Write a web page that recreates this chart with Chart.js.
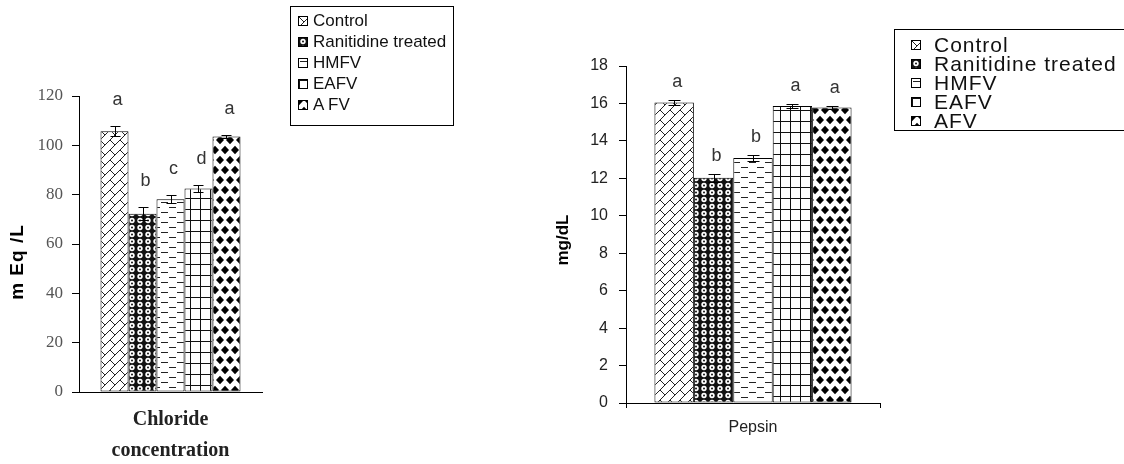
<!DOCTYPE html>
<html><head><meta charset="utf-8">
<script src="https://cdn.jsdelivr.net/npm/chart.js@4.4.1/dist/chart.umd.min.js"></script>
<style>
html,body{margin:0;padding:0;background:#fff;width:1124px;height:464px;overflow:hidden;position:relative;}
canvas.c{position:absolute;top:0;}
.legend{position:absolute;border:1px solid #000;box-sizing:border-box;background:#fff;font-family:'Liberation Sans',Arial,sans-serif;color:#111;}
.legend .item{display:flex;align-items:center;white-space:nowrap;}
.legend canvas{display:block;border:1px solid #000;}
</style></head><body>
<canvas id="left" class="c" width="285" height="464" style="left:0"></canvas>
<canvas id="right" class="c" width="345" height="464" style="left:540px"></canvas>
<div id="legL" class="legend" style="left:290px;top:6px;width:164px;height:120px;padding:3px 0 0 7px;font-size:17px;line-height:21px;"></div>
<div id="legR" class="legend" style="left:894px;top:29px;width:230px;height:102px;border-right:none;padding:5px 0 0 16px;font-size:21px;line-height:19px;letter-spacing:1px"></div>
<script>
// ---------- DATA ----------
const groups = ['Control','Ranitidine treated','HMFV','EAFV','AFV'];
const chlorideLegend = ['Control','Ranitidine treated','HMFV','EAFV','A FV'];
const chlorideCategory = [['Chloride','concentration']];
const chlorideMean = [105.7, 72.3, 78.1, 82.5, 103.6];
const chlorideErr = [2.0, 2.7, 1.6, 1.6, 0.7];
const chlorideLetters = ['a','b','c','d','a'];
const chlorideTicks = [0, 20, 40, 60, 80, 100, 120];
const chlorideTitle = 'm Eq /L';

const pepsinCategory = ['Pepsin'];
const pepsinMean = [16.05, 12.03, 13.09, 15.86, 15.79];
const pepsinErr = [0.12, 0.22, 0.15, 0.09, 0.07];
const pepsinLetters = ['a','b','b','a','a'];
const pepsinTicks = [0, 2, 4, 6, 8, 10, 12, 14, 16, 18];
const pepsinTitle = 'mg/dL';

// ---------- PATTERNS ----------
function makeTile(w,h,draw){const c=document.createElement('canvas');c.width=w;c.height=h;const g=c.getContext('2d');draw(g,w,h);return c;}
const tiles = [
  makeTile(10,10,(g,w,h)=>{g.fillStyle='#fff';g.fillRect(0,0,w,h);g.strokeStyle='#222';g.lineWidth=1;g.beginPath();
    g.moveTo(-1,11);g.lineTo(11,-1);g.moveTo(0,0);g.lineTo(5,5);g.stroke();}),
  makeTile(8,7,(g,w,h)=>{g.fillStyle='#111';g.fillRect(0,0,w,h);g.fillStyle='#fff';g.beginPath();g.arc(4,3.5,2.7,0,Math.PI*2);g.fill();
    g.fillStyle='#111';g.beginPath();g.arc(4,3.5,1,0,Math.PI*2);g.fill();}),
  makeTile(16,10,(g,w,h)=>{g.fillStyle='#fff';g.fillRect(0,0,w,h);g.fillStyle='#222';g.fillRect(1,2,7,1);g.fillRect(9,7,7,1);}),
  makeTile(10,11,(g,w,h)=>{g.fillStyle='#fff';g.fillRect(0,0,w,h);g.fillStyle='#111';g.fillRect(0,0,1,h);g.fillRect(0,0,w,1);}),
  makeTile(10,20,(g,w,h)=>{g.fillStyle='#fff';g.fillRect(0,0,w,h);g.fillStyle='#000';
    const d=(cx,cy)=>{g.beginPath();g.moveTo(cx,cy-4.3);g.lineTo(cx+4,cy);g.lineTo(cx,cy+4.3);g.lineTo(cx-4,cy);g.closePath();g.fill();};
    d(0,0);d(10,0);d(0,20);d(10,20);d(5,10);})
];
const pctx = document.createElement('canvas').getContext('2d');
const patterns = tiles.map(t=>pctx.createPattern(t,'repeat'));

// ---------- PLUGIN ----------
const annot = {
  id:'annot',
  afterDatasetsDraw(chart, args, o){
    const ctx=chart.ctx, y=chart.scales.y;
    ctx.save();
    chart.data.datasets.forEach((ds,i)=>{
      const bar=chart.getDatasetMeta(i).data[0];
      const v=ds.data[0], e=o.err[i];
      const yt=Math.round(y.getPixelForValue(v+e))+0.5, yb=Math.round(y.getPixelForValue(v-e))+0.5;
      const x=Math.round(bar.x)+0.5;
      ctx.strokeStyle='#000';ctx.lineWidth=1;ctx.beginPath();
      ctx.moveTo(x,yt);ctx.lineTo(x,yb);
      ctx.moveTo(x-o.cap,yt);ctx.lineTo(x+o.cap,yt);
      ctx.moveTo(x-o.cap,yb);ctx.lineTo(x+o.cap,yb);
      ctx.stroke();
      ctx.fillStyle=o.letterColor;ctx.font=o.letterFont;ctx.textAlign='center';ctx.textBaseline='middle';
      ctx.fillText(o.letters[i], bar.x+3, yt-o.letterGap);
    });
    ctx.translate(o.title.x,o.title.y);ctx.rotate(-Math.PI/2);
    ctx.font=o.title.font;ctx.fillStyle='#000';ctx.textAlign='center';ctx.textBaseline='middle';
    if ('letterSpacing' in ctx) ctx.letterSpacing=o.title.spacing||'0px';
    ctx.fillText(o.title.text,0,0);
    ctx.restore();
  }
};

function build(id,c){
  const datasets=c.mean.map((v,i)=>({label:c.legend[i],data:[v],backgroundColor:patterns[i],borderColor:'#000',borderWidth:1,borderSkipped:false,
    barPercentage:1,categoryPercentage:c.catPct}));
  return new Chart(document.getElementById(id),{
    type:'bar',
    data:{labels:c.category,datasets},
    plugins:[annot],
    options:{
      responsive:false,animation:false,devicePixelRatio:1,
      layout:{padding:{top:c.padTop,right:c.padRight,left:0,bottom:0}},
      plugins:{legend:{display:false},tooltip:{enabled:false},
        annot:{err:c.err,letters:c.letters,cap:c.cap,letterGap:c.letterGap,letterFont:'18px "Liberation Sans", Arial, sans-serif',letterColor:'#333',title:c.title}},
      scales:{
        x:{offset:true,
          grid:{display:c.xTicks,drawOnChartArea:false,drawTicks:c.xTicks,tickLength:5,color:'#000',offset:true},
          border:{display:true,color:'#000',width:1},
          ticks:{font:c.xFont,color:c.xColor,padding:c.xPad},
          afterFit:s=>{s.height=c.xH;}},
        y:{min:c.ticks[0],max:c.ticks[c.ticks.length-1],
          ticks:{stepSize:c.ticks[1]-c.ticks[0],font:c.yFont,color:c.yColor,padding:c.yPad},
          grid:{drawOnChartArea:false,drawTicks:true,tickLength:c.yTickLen,color:'#000'},
          border:{display:true,color:'#000',width:1},
          afterFit:s=>{s.width=c.yW;}}
      }
    }
  });
}

build('left',{mean:chlorideMean,err:chlorideErr,letters:chlorideLetters,legend:chlorideLegend,category:chlorideCategory,ticks:chlorideTicks,
  catPct:0.765,padTop:96,padRight:23,xH:72,yW:79,xTicks:false,xPad:12,
  xFont:{family:'"Liberation Serif", serif',size:20,weight:'bold',lineHeight:1.55},xColor:'#222',
  yFont:{family:'"Liberation Serif", serif',size:17},yColor:'#555',yPad:9,yTickLen:7,
  cap:5,letterGap:26,
  title:{text:chlorideTitle,x:18,y:262,font:'bold 19px "Liberation Sans", Arial, sans-serif',spacing:'1px'}});

build('right',{mean:pepsinMean,err:pepsinErr,letters:pepsinLetters,legend:groups,category:pepsinCategory,ticks:pepsinTicks,
  catPct:0.776,padTop:66,padRight:5,xH:61,yW:86,xTicks:true,xPad:10,
  xFont:{family:'"Liberation Sans", Arial, sans-serif',size:16},xColor:'#222',
  yFont:{family:'"Liberation Sans", Arial, sans-serif',size:16},yColor:'#222',yPad:11,yTickLen:7,
  cap:6,letterGap:18,
  title:{text:pepsinTitle,x:23,y:240,font:'bold 17px "Liberation Sans", Arial, sans-serif'}});

// ---------- HTML LEGENDS ----------
function legend(id,labels,size,gap){
  const el=document.getElementById(id);
  labels.forEach((lab,i)=>{
    const row=document.createElement('div');row.className='item';
    const cv=document.createElement('canvas');cv.width=size;cv.height=size;cv.style.marginRight=gap+'px';
    const g=cv.getContext('2d');g.fillStyle=patterns[i];g.fillRect(0,0,size,size);
    const sp=document.createElement('span');sp.textContent=lab;
    row.appendChild(cv);row.appendChild(sp);el.appendChild(row);
  });
}
legend('legL',chlorideLegend,8,5);
legend('legR',groups,8,13);
</script>
</body></html>
